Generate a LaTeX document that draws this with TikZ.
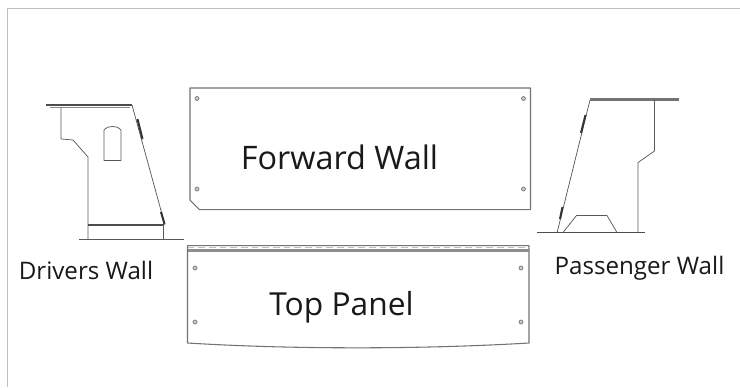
\documentclass[tikz,border=0pt]{standalone}
\usepackage{fontspec}
\setmainfont{Open Sans}
\definecolor{edge}{gray}{0.35}
\definecolor{frameline}{gray}{0.75}
\tikzset{
  part/.style={draw=edge,line width=0.55pt,line join=round},
  panel/.style={draw=black!55,line width=0.8pt,line join=round},
  thick part/.style={draw=black!80,line width=1.5pt},
  bar/.style={draw=black!70,line width=1.3pt},
  hole/.style={circle,draw=black!55,fill=black!20,line width=0.5pt,inner sep=0pt,minimum size=3pt},
  biglabel/.style={font=\fontsize{24.3}{28}\selectfont,text=black!90,inner sep=0pt,anchor=base},
  smalllabel/.style={font=\fontsize{18.1}{22}\selectfont,text=black!90,inner sep=0pt,anchor=base}
}
\begin{document}
\begin{tikzpicture}[x=0.75pt,y=-0.75pt]
\useasboundingbox (0,0) rectangle (740,387);
\fill[white] (0,0) rectangle (740,387);
% page frame
\draw[frameline,line width=1pt] (7.5,387) -- (7.5,8.5) -- (740,8.5);
% forward wall
\draw[panel] (190,88) -- (530.5,88) -- (530.5,209.7) -- (199.7,209.7) -- (190,200) -- cycle;
\foreach \n/\px/\py in {fa/197/98.5,fb/197/189,fc/523.5/98.5,fd/523.5/189}
  \node[hole] (\n) at (\px,\py) {};
\node[biglabel] (forward) at (339.5,169.5) {Forward Wall};
% top panel
\draw[panel] (187.5,343) -- (187.5,245.7) -- (529,245.7) -- (529,343)
  .. controls (470,346.5) and (410,347.8) .. (358,347.8)
  .. controls (300,347.8) and (245,346.5) .. (187.5,343);
\draw[draw=black!45,line width=2pt] (187.5,250.5) -- (529,250.5);
\draw[draw=black!25,line width=0.6pt,dash pattern=on 5pt off 3pt] (187.5,247.5) -- (529,247.5);
\foreach \n/\px/\py in {ta/195/268,tb/195/322,tc/521/268,td/521/322}
  \node[hole] (\n) at (\px,\py) {};
\node[biglabel,font=\fontsize{23.8}{28}\selectfont] (top) at (341.5,315) {Top Panel};
% drivers wall
\draw[bar] (46,105) -- (132,105);
\draw[draw=black!45,line width=1pt] (50,107.5) -- (130,107.5);
\draw[part] (61,107) -- (61,139) -- (73,140) -- (88,157) -- (88,239);
\draw[part] (132,105) -- (165,225);
\draw[bar,line width=1pt] (88,225) -- (164,225);
\draw[part] (163,225) -- (163,239);
\draw[draw=black!65,line width=1pt] (79,239.2) -- (184,239.2);
\draw[thick part] (137.5,119) -- (142.5,139);
\draw[thick part] (161,212) -- (164.5,224);
\draw[part] (104,160.5) -- (104,130) .. controls (107,127) and (109,126.5) .. (112.5,126.5)
  .. controls (116,126.5) and (118,127) .. (121,130) -- (121,160.5) -- cycle;
\node[smalllabel] (drivers) at (86,279) {Drivers Wall};
% passenger wall
\draw[draw=black!55,line width=2pt] (590,99.7) -- (679,99.7);
\draw[part] (590,100) -- (557,233);
\draw[part] (654.5,100) -- (654.5,151) -- (638,162.5) -- (638,233);
\draw[part] (563,232.5) -- (576.5,215.5) -- (607,215.5) -- (617,232.5);
\draw[draw=black!70,line width=0.8pt] (537,232.8) -- (645,232.8);
\draw[draw=black!70,line width=1.2pt] (557,232.5) -- (563,232.5);
\draw[draw=black!70,line width=1.2pt] (617,232.5) -- (638,232.5);
\draw[thick part] (585.5,115) -- (581,133);
\draw[thick part] (562.5,207) -- (560,219);
\node[smalllabel] (passenger) at (639.5,274) {Passenger Wall};
\end{tikzpicture}
\end{document}
